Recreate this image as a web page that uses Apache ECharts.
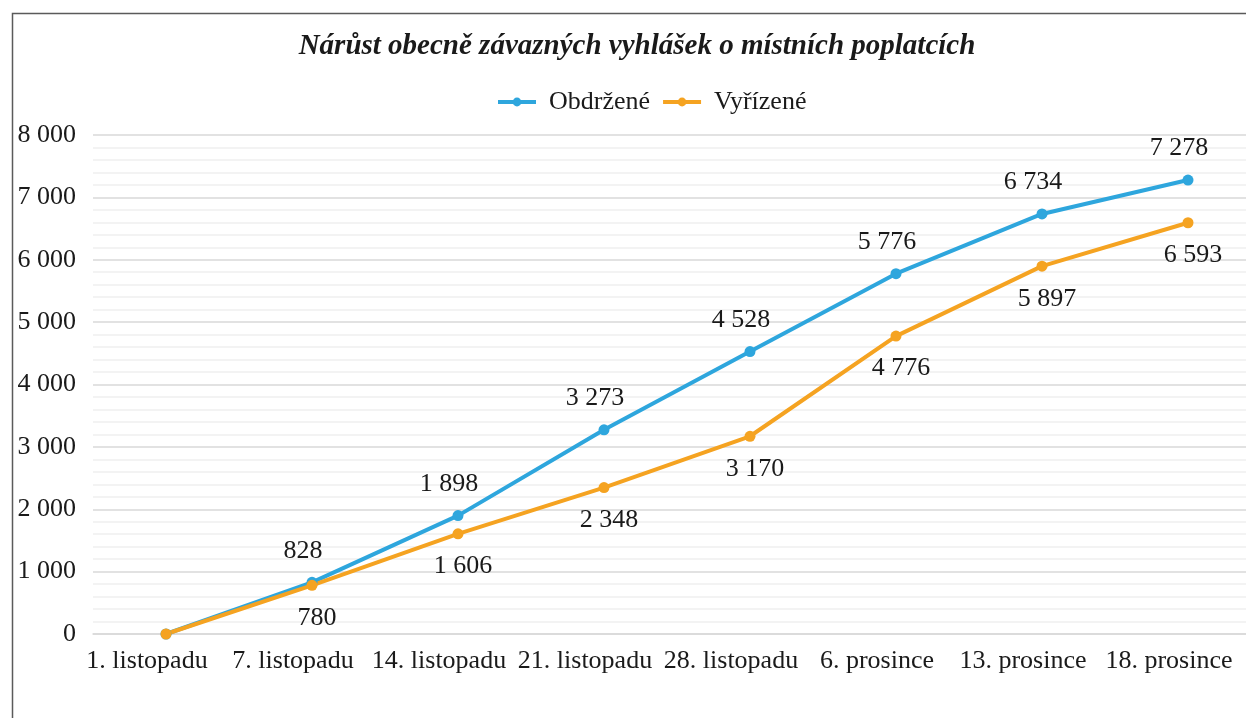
<!DOCTYPE html>
<html>
<head>
<meta charset="utf-8">
<title>Nárůst OZV o místních poplatcích</title>
<script src="https://cdn.jsdelivr.net/npm/echarts@6/dist/echarts.min.js"></script>
<style>
  html, body { margin: 0; padding: 0; background: #fff; }
  #chart { width: 1246px; height: 718px; }
</style>
</head>
<body>
<div id="chart"></div>
<script>
const categories = ['1. listopadu', '7. listopadu', '14. listopadu', '21. listopadu',
  '28. listopadu', '6. prosince', '13. prosince', '18. prosince'];
const obdrzene = [0, 828, 1898, 3273, 4528, 5776, 6734, 7278];
const vyrizene = [0, 780, 1606, 2348, 3170, 4776, 5897, 6593];
const yTicks = [0, 1000, 2000, 3000, 4000, 5000, 6000, 7000, 8000];

const font = '"Liberation Serif", "Times New Roman", serif';

// cisla s mezerou jako oddelovacem tisicu
function fmt(v) {
  return String(v).replace(/\B(?=(\d{3})+(?!\d))/g, ' ');
}

let myChart = echarts.init(document.getElementById('chart'));
let option = {
  backgroundColor: '#fff',
  animation: false,
  textStyle: { fontFamily: font },
  title: {
    text: 'Nárůst obecně závazných vyhlášek o místních poplatcích',
    left: 632,
    top: 27,
    textAlign: 'center',
    textStyle: {
      fontFamily: font,
      fontSize: 29,
      fontWeight: 'bold',
      fontStyle: 'italic',
      color: '#1a1a1a'
    }
  },
  legend: {
    data: ['Obdržené', 'Vyřízené'],
    left: 491,
    top: 84,
    itemWidth: 38,
    itemHeight: 11,
    itemGap: 11,
    lineStyle: { width: 4 },
    textStyle: { fontFamily: font, fontSize: 26, color: '#1a1a1a', padding: [0, 0, 0, 8] }
  },
  graphic: [{
    type: 'rect',
    left: 10,
    top: 11,
    shape: { width: 1400, height: 800 },
    style: { fill: 'none', stroke: '#5a5a5a', lineWidth: 1.5 },
    silent: true
  }],
  grid: { left: 93, top: 135, width: 1168, height: 499, outerBoundsMode: 'none' },
  xAxis: {
    type: 'category',
    data: categories,
    boundaryGap: true,
    axisLine: { show: true, lineStyle: { color: '#d9d9d9', width: 1.5 } },
    axisTick: { show: false },
    axisLabel: {
      fontFamily: font, fontSize: 26, color: '#1a1a1a', margin: 14,
      interval: 0, padding: [0, 38, 0, 0]
    }
  },
  yAxis: {
    type: 'value',
    min: yTicks[0],
    max: yTicks[yTicks.length - 1],
    interval: 1000,
    axisLine: { show: false },
    axisTick: { show: false },
    axisLabel: {
      fontFamily: font, fontSize: 26, color: '#1a1a1a', margin: 17,
      formatter: fmt
    },
    splitLine: { lineStyle: { color: '#d9d9d9', width: 1.5 } },
    minorTick: { show: false, splitNumber: 5 },
    minorSplitLine: { show: true, lineStyle: { color: '#efefef', width: 1.5 } }
  },
  series: [
    {
      name: 'Obdržené',
      type: 'line',
      data: obdrzene,
      symbol: 'circle',
      symbolSize: 11,
      color: '#2ea6dd',
      lineStyle: { width: 4 },
      label: {
        show: true, position: 'top', distance: 13, offset: [-9, 0],
        fontFamily: font, fontSize: 26, color: '#1a1a1a',
        formatter: p => p.value ? fmt(p.value) : ''
      }
    },
    {
      name: 'Vyřízené',
      type: 'line',
      data: vyrizene,
      symbol: 'circle',
      symbolSize: 11,
      color: '#f5a321',
      lineStyle: { width: 4 },
      label: {
        show: true, position: 'bottom', distance: 14, offset: [5, 0],
        fontFamily: font, fontSize: 26, color: '#1a1a1a',
        formatter: p => p.value ? fmt(p.value) : ''
      }
    }
  ]
};
myChart.setOption(option);
</script>
</body>
</html>
